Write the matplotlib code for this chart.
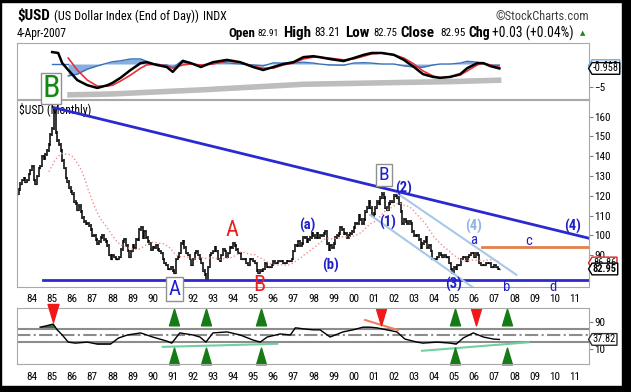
import numpy as np
import matplotlib.pyplot as plt
from matplotlib.path import Path
from matplotlib.patches import Rectangle

plt.rcParams['font.family'] = ['Roboto Condensed', 'DejaVu Sans']

# monthly closes, Apr 1983 .. Apr 2007
close = [121, 123, 126, 128, 129, 127, 128, 131, 133,
         135, 128, 126, 130, 134, 135, 140, 139, 141, 143, 146, 151,
         154, 164, 152, 148, 146, 143, 138, 134, 129, 127, 124, 122,
         121, 117, 116, 113, 115, 112, 109, 107, 106, 106, 105, 103,
         100, 100, 98, 96, 97, 99, 100, 98, 97, 95, 90, 88,
         90, 89, 88, 88, 89, 93, 97, 98, 95, 92, 89, 92,
         95, 94, 98, 98, 103, 104, 99, 102, 99, 97, 96, 93,
         94, 94, 95, 93, 92, 91, 88, 86, 85, 83, 83, 84,
         82, 81, 88, 89, 91, 96, 97, 94, 91, 90, 88, 85,
         88, 91, 92, 90, 88, 86, 82, 80, 78, 84, 90, 91,
         92, 94, 92, 88, 87, 90, 93, 92, 89, 91, 94, 94,
         96, 95, 93, 91, 91, 88, 88, 88, 86, 85, 88, 88,
         87, 86, 82, 81, 82, 82, 83, 86, 84, 84, 84, 85,
         87, 86, 86, 87, 87, 87, 86, 86, 87, 87, 87, 88,
         92, 95, 95, 97, 95, 96, 99, 99, 97, 98, 99, 101,
         100, 99, 101, 99, 100, 100, 101, 102, 96, 93, 95, 94,
         96, 99, 100, 101, 104, 103, 101, 101, 99, 100, 101, 102,
         104, 106, 106, 110, 108, 106, 108, 112, 114, 117, 114, 110,
         111, 114, 117, 116, 119, 121, 119, 114, 113, 116, 117, 117,
         120, 120, 119, 116, 112, 106, 108, 107, 106, 107, 106, 102,
         100, 100, 100, 98, 94, 96, 97, 99, 94, 95, 92, 88,
         88, 88, 89, 91, 90, 89, 90, 89, 89, 86, 83, 81,
         84, 83, 85, 85, 88, 89, 89, 87, 89, 90, 91, 91,
         89, 91, 90, 86, 85, 85, 85, 86, 86, 86, 84, 84,
         85, 84, 83, 83]
ma_len = 20

# upper indicator panel
macd_t = [1985.0, 1985.3, 1985.5, 1985.8, 1986.25, 1986.75, 1987.25, 1987.75, 1988.0, 1988.4,
          1988.9, 1989.4, 1989.7, 1990.2, 1990.7, 1991.0, 1991.5, 1991.9, 1992.4, 1993.0,
          1993.7, 1994.35, 1995.0, 1995.5, 1996.0, 1996.5, 1997.0, 1997.5, 1998.0, 1998.3,
          1998.8, 1999.5, 2000.0, 2000.5, 2000.9, 2001.4, 2002.0, 2002.5, 2003.0, 2003.45,
          2003.95, 2004.3, 2004.8, 2005.3, 2005.65, 2006.15, 2006.45, 2006.8, 2007.25]
macd = [2.6, 2.4, 0.2, -1.3, -3.5, -4.6, -5.2, -4.6, -4.1, -3.0,
        -1.3, 0.2, 0.4, -0.2, -0.65, -1.7, 0.65, 0.2, -0.65, 0.4,
        0.9, 0.4, -0.65, -1.3, -0.65, 0.0, 0.4, 1.5, 1.7, 1.5,
        1.1, 0.65, 1.3, 2.0, 2.4, 2.4, 2.0, 0.9, -0.65, -2.2,
        -2.8, -3.0, -2.8, -2.2, -0.9, 0.2, 0.2, -0.45, -0.96]
signal = [np.nan, np.nan, np.nan, 1.3, -1.3, -3.5, -4.8, -4.8, -4.6, -3.7,
          -2.4, -0.9, -0.2, 0.0, -0.45, -0.9, -0.2, 0.0, -0.2, 0.0,
          0.65, 0.4, -0.45, -0.9, -0.9, -0.2, 0.2, 1.1, 1.5, 1.5,
          1.3, 0.9, 1.1, 1.7, 2.2, 2.4, 2.0, 1.3, 0.0, -1.5,
          -2.6, -3.0, -2.8, -2.4, -1.5, -0.2, 0.2, -0.2, -0.7]
band_t = [1985.75, 1988, 1990, 1992.5, 1995, 1997.5, 2000, 2002.5, 2005, 2007.35]
band_v = [-6.7, -6.5, -6.1, -5.6, -5.0, -4.4, -4.2, -4.0, -3.8, -3.5]

# lower RSI panel
rsi_t = [1984.4, 1984.65, 1985.05, 1985.25, 1985.5, 1985.8, 1986.15, 1986.75, 1987.25, 1987.9,
         1988.3, 1988.75, 1989.4, 1990.0, 1990.7, 1990.95, 1991.35, 1992.0, 1992.35, 1992.65,
         1993.0, 1993.7, 1994.35, 1995.0, 1995.35, 1995.7, 1996.35, 1996.85, 1997.1, 1997.5,
         1998.0, 1998.33, 1998.83, 1999.47, 1999.97, 2000.47, 2000.8, 2001.15, 2001.65, 2002.15,
         2002.55, 2003.15, 2003.45, 2004.15, 2004.8, 2005.1, 2005.45, 2005.95, 2006.45, 2006.95,
         2007.25]
rsi = [74, 77, 83, 66, 51, 30, 27, 30, 24, 24,
       42, 51, 57, 45, 33, 27, 57, 51, 45, 30,
       57, 60, 51, 36, 30, 45, 54, 51, 72, 69,
       66, 66, 45, 60, 66, 74, 74, 72, 66, 60,
       39, 30, 27, 30, 27, 24, 42, 57, 45, 39,
       37.82]
buy_up = [1991.06, 1992.66, 1995.39, 2005.04, 2007.63]
sell_dn = [2001.36, 2006.09]
sell_dn_85 = [1985.04]

# drawn trend lines (year, value)
fan_line = [(1985.1, 164.5), (2011.71, 98.5)]
floor_line = [(1984.55, 77.5), (2011.71, 77.5)]
chan_hi = [(2002.2, 121.0), (2008.1, 80.0)]
chan_lo = [(2000.82, 110.3), (2006.3, 71.0)]
orange_line = [(2006.4, 94.2), (2011.71, 94.2)]
rsi_red = [(2000.57, 95), (2002.2, 65.6)]
rsi_green1 = [(1990.5, 16), (1996.2, 25)]
rsi_green2 = [(2003.4, 4.4), (2008.7, 29.4)]

header_lab = ['Open', 'High', 'Low', 'Close', 'Chg']
header_val = ['82.91', '83.21', '82.75', '82.95', '+0.03 (+0.04%)']
# pixel spans of each label / value in the header row
lab_span = [(228, 255), (283, 311), (345, 370), (400, 437), (468, 490)]
val_span = [(258, 279), (314, 340), (373, 397), (440, 465), (492, 578)]

W, H = 631, 392
fig = plt.figure(figsize=(W / 100, H / 100), dpi=100)
fig.patch.set_facecolor('white')
renderer = fig.canvas.get_renderer()


def panel(x0, y0, x1, y1):
    a = fig.add_axes([x0 / W, 1 - y1 / H, (x1 - x0) / W, (y1 - y0) / H])
    for s in a.spines.values():
        s.set_color('#a8a8a8')
    a.set_xlim(1983.25, 2011.71)
    a.yaxis.tick_right()
    a.tick_params(axis='y', length=3, color='#808080', labelsize=8, pad=1)
    return a


def tag_path(x0, y0, width, height, mutation_size):
    p = 0.08 * mutation_size
    x0, y0, w, h = x0 - p, y0 - p, width + 2 * p, height + 2 * p
    return Path([(x0, y0), (x0 + w, y0), (x0 + w, y0 + h), (x0, y0 + h),
                 (x0 - h * 0.3, y0 + h / 2), (x0, y0)], closed=True)


def tag(a, val, txt, ec, weight='normal'):
    a.annotate(txt, xy=(1, val), xycoords=a.get_yaxis_transform(), xytext=(2.8, 0),
               textcoords='offset points', ha='left', va='center', fontsize=7.5,
               weight=weight, bbox=dict(boxstyle=tag_path, fc='white', ec=ec, lw=1),
               annotation_clip=False)


def fit(x0, x1, yc, s, size, **kw):
    tx = fig.text(x0 / W, 1 - yc / H, s, fontsize=size, va='center', **kw)
    w = tx.get_window_extent(renderer).width
    tx.set_fontsize(min(size * 1.15, size * (x1 - x0) / w))
    return tx


years = np.arange(1984, 2012)
ylabels = ['%02d' % (y % 100) for y in years]

# ---- top panel
ax_top = panel(17, 43, 589, 99)
ax_top.set_ylim(-7.6, 4.57)
ax_top.set_xticks([])
ax_top.set_yticks([-5])
mt = np.array(macd_t)
hist = np.array(macd) - np.array(signal)
ax_top.fill_between(mt, 0, hist, color='#86aee0', lw=0)
ax_top.plot(mt, hist, color='#3a70b8', lw=1)
ax_top.plot([mt[0], mt[3]], [0, 0], color='#3a70b8', lw=1)
ax_top.plot(band_t, band_v, color='#bdbdbd', lw=4, solid_capstyle='butt')
ax_top.plot(mt, signal, color='#e8303a', lw=1.2)
ax_top.plot(mt, macd, color='black', lw=1.8)
tag(ax_top, -0.35, '-0.412', '#6aaae0')
tag(ax_top, -0.958, '-0.958', 'black')

# ---- main panel
ax = panel(17, 100, 589, 287)
ax.set_ylim(73.85, 168.4)
ax.set_yticks(range(90, 170, 10))
ax.set_xticks(years)
ax.set_xticklabels(ylabels)
ax.tick_params(axis='x', length=0, labelsize=8, pad=5)

c = np.array(close, dtype=float)
t = 1983.25 + np.arange(len(c)) / 12
prev = np.r_[c[0], c[:-1]]
ax.vlines(t, np.minimum(prev, c) - 0.7, np.maximum(prev, c) + 0.7, color='black', lw=1.1)
ax.hlines(c, t, t + 0.04, color='black', lw=1)
ma = np.convolve(c, np.ones(ma_len) / ma_len, mode='valid')
ax.plot(t[ma_len - 1:], ma, ':', color='#f09090', lw=1)

for ln, col, lw in [(fan_line, '#2a2ad0', 2), (floor_line, '#2a2ad0', 2),
                    (chan_hi, '#a8c8ea', 1.5), (chan_lo, '#a8c8ea', 1.5),
                    (orange_line, '#e4804a', 2)]:
    xs, ys = zip(*ln)
    ax.plot(xs, ys, color=col, lw=lw)

blue = '#2020c8'
for s, (x, y) in [('(a)', (1997.68, 105.2)), ('(b)', (1998.83, 84.5)), ('(1)', (2001.71, 106.7)),
                  ('(2)', (2002.46, 123.9)), ('(3)', (2004.99, 74.9)), ('(4)', (2010.87, 104.2))]:
    ax.text(x, y, s, color=blue, fontsize=10.5, weight='bold', ha='center', va='center')
ax.text(2005.99, 104.2, '(4)', color='#8db4e2', fontsize=10.5, weight='bold', ha='center', va='center')
for s, (x, y) in [('a', (2005.99, 97.6)), ('c', (2008.73, 97.1)), ('b', (2007.63, 73.9)), ('d', (2009.92, 73.9))]:
    ax.text(x, y, s, color=blue, fontsize=10.5, ha='center', va='center')
ax.text(1993.95, 102.2, 'A', color='#e82020', fontsize=16, ha='center', va='center')
ax.text(1995.29, 74.4, 'B', color='#e82020', fontsize=16, ha='center', va='center')
box = dict(boxstyle='square,pad=0.12', fc='white', ec='#909090', lw=1)
ax.text(1991.09, 72.6, 'A', color=blue, fontsize=15, ha='center', va='center', bbox=box)
ax.text(2001.51, 130.5, 'B', color=blue, fontsize=14, ha='center', va='center', bbox=box)
ax.text(1984.95, 174.3, 'B', color='#128a12', fontsize=23, ha='center', va='center',
        bbox=dict(boxstyle='square,pad=0.04', fc='white', ec='#909090', lw=1), zorder=10)
ax.text(0.004, 0.985, '$USD (Monthly)', transform=ax.transAxes, fontsize=8.5, va='top', ha='left', zorder=1)
tag(ax, 86.0, '86.86', '#e02020')
tag(ax, 82.95, '82.95', 'black', weight='bold')

# ---- RSI panel
ax_rsi = panel(17, 308, 589, 364)
ax_rsi.set_ylim(-34.4, 130.3)
ax_rsi.set_yticks([10, 90])
ax_rsi.set_xticks(years)
ax_rsi.set_xticklabels(ylabels)
ax_rsi.tick_params(axis='x', length=0, labelsize=8, pad=6)
for lv, ls in [(70, '-'), (30, '-'), (50, '-.')]:
    ax_rsi.axhline(lv, color='#8c8c8c', lw=1.5, ls=ls)
rt = np.array(rsi_t)
rv = np.array(rsi)
ax_rsi.fill_between(rt, 70, rv, where=rv > 70, interpolate=True, color='#3c6e3c', lw=0)
ax_rsi.fill_between(rt, 30, rv, where=rv < 30, interpolate=True, color='#3c6e3c', lw=0)
ax_rsi.plot(rt, rv, color='black', lw=1)
for ln, col in [(rsi_red, '#f08060'), (rsi_green1, '#70d0a0'), (rsi_green2, '#70d0a0')]:
    xs, ys = zip(*ln)
    ax_rsi.plot(xs, ys, color=col, lw=1.5)
up = Path([(-0.3, -0.5), (0.3, -0.5), (0, 0.5), (-0.3, -0.5)], closed=True)
dn = Path([(-0.3, 0.5), (0.3, 0.5), (0, -0.5), (-0.3, 0.5)], closed=True)
ax_rsi.plot(buy_up, [105.3] * len(buy_up), ls='none', marker=up, ms=12, color='#167a16', clip_on=False)
ax_rsi.plot(buy_up, [-10.9] * len(buy_up), ls='none', marker=up, ms=12, color='#167a16', clip_on=False)
ax_rsi.plot(sell_dn, [105.3] * len(sell_dn), ls='none', marker=dn, ms=12, color='#f01818', clip_on=False)
ax_rsi.plot(sell_dn_85, [117] * len(sell_dn_85), ls='none', marker=dn, ms=13, color='#f01818',
            clip_on=False, zorder=5)
tag(ax_rsi, rsi[-1], '%.2f' % rsi[-1], '#303030')

# ---- header
fit(17, 50, 16, '$USD', 12, weight='bold')
fit(54, 199, 16, '(US Dollar Index (End of Day))', 9.5)
fit(203, 228, 16, 'INDX', 7.5)
fit(17, 67, 33, '4-Apr-2007', 8.5)
fit(495, 588, 16, '\u00a9StockCharts.com', 8.5, color='#404040')
for lab, val, ls, vs in zip(header_lab, header_val, lab_span, val_span):
    fit(ls[0], ls[1], 33, lab, 9.5, weight='bold')
    fit(vs[0], vs[1], 33, val, 8.5)
fig.text(583 / W, 1 - 33 / H, '\u25b2', fontsize=5, color='#1a8a1a', va='center', ha='center',
         family='DejaVu Sans')

# black frame of the screenshot
for (x0, y0, w, h) in [(622, 0, 9, H), (0, 386, W, 6), (0, 0, W, 2), (0, 0, 1, H)]:
    fig.patches.append(Rectangle((x0 / W, 1 - (y0 + h) / H), w / W, h / H,
                                 transform=fig.transFigure, color='black', zorder=20))

fig.savefig('out.png', dpi=100)
